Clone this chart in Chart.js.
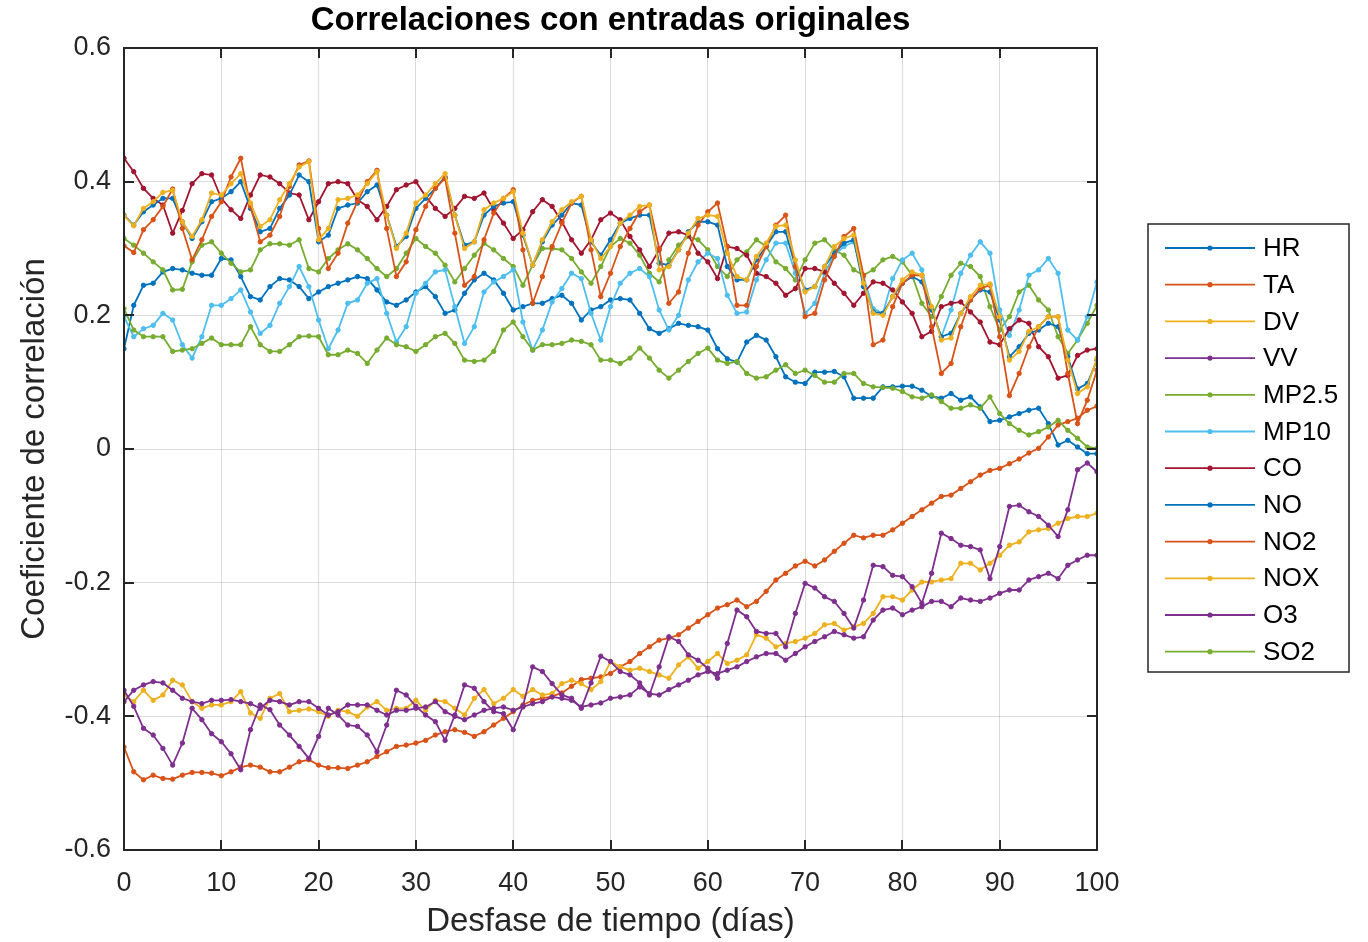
<!DOCTYPE html>
<html lang="es">
<head>
<meta charset="utf-8">
<title>Correlaciones con entradas originales</title>
<script src="https://cdn.jsdelivr.net/npm/chart.js@4.4.1/dist/chart.umd.min.js"></script>
<style>
  html, body { margin: 0; padding: 0; background: #ffffff; }
  #wrap { width: 1368px; height: 942px; }
  canvas { display: block; }
</style>
</head>
<body>
<div id="wrap"><canvas id="chart" width="1368" height="942"></canvas></div>
<script>
// Time lag in days (x values)
const lagDays = [0,1,2,3,4,5,6,7,8,9,10,11,12,13,14,15,16,17,18,19,20,21,22,23,24,25,26,27,28,29,30,
  31,32,33,34,35,36,37,38,39,40,41,42,43,44,45,46,47,48,49,50,51,52,53,54,55,56,57,58,59,60,
  61,62,63,64,65,66,67,68,69,70,71,72,73,74,75,76,77,78,79,80,81,82,83,84,85,86,87,88,89,90,
  91,92,93,94,95,96,97,98,99,100];

const xTicks = [0,10,20,30,40,50,60,70,80,90,100];
const yTicks = [-0.6,-0.4,-0.2,0,0.2,0.4,0.6];

const seriesNames = ['HR','TA','DV','VV','MP2.5','MP10','CO','NO','NO2','NOX','O3','SO2'];
const seriesColors = ['#0072BD','#D95319','#EDB120','#7E2F8E','#77AC30','#4DBEEE','#A2142F',
                      '#0072BD','#D95319','#EDB120','#7E2F8E','#77AC30'];

// Correlation coefficient per lag, one array per input variable
const HR = [0.150,0.215,0.245,0.248,0.265,0.270,0.268,0.263,0.260,0.260,
  0.285,0.283,0.258,0.228,0.223,0.243,0.255,0.253,0.243,0.225,
  0.235,0.243,0.248,0.253,0.258,0.255,0.238,0.220,0.215,0.223,
  0.235,0.243,0.228,0.203,0.208,0.233,0.253,0.263,0.253,0.233,
  0.208,0.213,0.218,0.218,0.225,0.230,0.218,0.193,0.208,0.213,
  0.223,0.225,0.223,0.203,0.180,0.173,0.180,0.188,0.185,0.183,
  0.178,0.150,0.135,0.130,0.160,0.170,0.163,0.138,0.108,0.100,
  0.098,0.115,0.115,0.116,0.108,0.076,0.076,0.076,0.093,0.093,
  0.094,0.094,0.088,0.079,0.076,0.083,0.073,0.078,0.063,0.041,
  0.043,0.048,0.053,0.058,0.061,0.038,0.006,0.013,0.003,-0.007,
  -0.007];

const TA = [-0.446,-0.483,-0.495,-0.488,-0.493,-0.494,-0.488,-0.484,-0.484,-0.485,
  -0.489,-0.483,-0.476,-0.473,-0.476,-0.483,-0.483,-0.476,-0.468,-0.465,
  -0.473,-0.477,-0.477,-0.478,-0.473,-0.468,-0.460,-0.453,-0.445,-0.443,
  -0.440,-0.436,-0.428,-0.423,-0.420,-0.424,-0.430,-0.423,-0.413,-0.403,
  -0.393,-0.383,-0.376,-0.373,-0.370,-0.365,-0.355,-0.345,-0.343,-0.341,
  -0.336,-0.326,-0.318,-0.306,-0.296,-0.286,-0.283,-0.278,-0.268,-0.258,
  -0.248,-0.238,-0.233,-0.226,-0.236,-0.228,-0.213,-0.196,-0.186,-0.175,
  -0.168,-0.175,-0.166,-0.153,-0.141,-0.129,-0.133,-0.129,-0.129,-0.121,
  -0.111,-0.101,-0.091,-0.081,-0.071,-0.069,-0.059,-0.049,-0.039,-0.032,
  -0.029,-0.022,-0.015,-0.006,0.001,0.018,0.036,0.041,0.046,0.058,
  0.064];

const DV = [-0.368,-0.378,-0.361,-0.376,-0.368,-0.346,-0.353,-0.378,-0.388,-0.383,
  -0.383,-0.378,-0.363,-0.395,-0.403,-0.373,-0.366,-0.393,-0.391,-0.389,
  -0.393,-0.400,-0.391,-0.393,-0.400,-0.386,-0.378,-0.391,-0.388,-0.388,
  -0.376,-0.391,-0.376,-0.378,-0.388,-0.398,-0.373,-0.360,-0.381,-0.373,
  -0.360,-0.370,-0.360,-0.368,-0.366,-0.351,-0.346,-0.351,-0.360,-0.348,
  -0.318,-0.326,-0.331,-0.328,-0.333,-0.338,-0.343,-0.323,-0.311,-0.328,
  -0.318,-0.306,-0.321,-0.316,-0.308,-0.278,-0.283,-0.296,-0.291,-0.288,
  -0.283,-0.276,-0.263,-0.261,-0.271,-0.266,-0.261,-0.246,-0.221,-0.221,
  -0.226,-0.211,-0.199,-0.199,-0.196,-0.194,-0.171,-0.171,-0.181,-0.171,
  -0.159,-0.144,-0.139,-0.124,-0.121,-0.119,-0.111,-0.104,-0.101,-0.101,
  -0.096];

const VV = [-0.378,-0.361,-0.353,-0.348,-0.350,-0.361,-0.373,-0.378,-0.381,-0.376,
  -0.376,-0.375,-0.378,-0.381,-0.388,-0.376,-0.378,-0.383,-0.378,-0.378,
  -0.388,-0.398,-0.393,-0.383,-0.383,-0.383,-0.391,-0.398,-0.391,-0.391,
  -0.388,-0.386,-0.378,-0.393,-0.400,-0.405,-0.398,-0.391,-0.388,-0.386,
  -0.391,-0.386,-0.381,-0.378,-0.371,-0.373,-0.376,-0.386,-0.383,-0.380,
  -0.373,-0.371,-0.368,-0.356,-0.366,-0.368,-0.360,-0.353,-0.346,-0.338,
  -0.333,-0.336,-0.331,-0.326,-0.318,-0.311,-0.306,-0.306,-0.316,-0.306,
  -0.296,-0.288,-0.281,-0.273,-0.278,-0.283,-0.281,-0.256,-0.241,-0.238,
  -0.248,-0.241,-0.236,-0.228,-0.228,-0.236,-0.223,-0.226,-0.228,-0.223,
  -0.216,-0.211,-0.211,-0.196,-0.191,-0.186,-0.194,-0.174,-0.166,-0.159,
  -0.159];

const MP25 = [0.315,0.305,0.293,0.280,0.268,0.238,0.239,0.280,0.305,0.310,
  0.293,0.278,0.265,0.268,0.298,0.307,0.307,0.305,0.313,0.270,
  0.265,0.285,0.298,0.307,0.298,0.285,0.270,0.258,0.270,0.293,
  0.315,0.303,0.293,0.275,0.250,0.270,0.290,0.308,0.298,0.285,
  0.273,0.245,0.275,0.300,0.300,0.298,0.285,0.265,0.248,0.273,
  0.303,0.315,0.308,0.290,0.263,0.250,0.283,0.305,0.318,0.313,
  0.298,0.273,0.258,0.283,0.295,0.313,0.303,0.280,0.270,0.253,
  0.283,0.308,0.313,0.298,0.290,0.268,0.260,0.268,0.283,0.288,
  0.280,0.260,0.218,0.198,0.228,0.260,0.278,0.273,0.258,0.213,
  0.178,0.198,0.235,0.245,0.223,0.208,0.168,0.143,0.163,0.188,
  0.215];

const MP10 = [0.198,0.168,0.180,0.185,0.203,0.193,0.156,0.136,0.168,0.215,
  0.215,0.225,0.238,0.205,0.173,0.185,0.218,0.243,0.273,0.243,
  0.193,0.150,0.178,0.218,0.223,0.248,0.255,0.203,0.160,0.183,
  0.233,0.248,0.265,0.268,0.213,0.158,0.183,0.235,0.250,0.258,
  0.268,0.190,0.148,0.178,0.220,0.240,0.263,0.255,0.203,0.163,
  0.213,0.248,0.263,0.270,0.258,0.208,0.178,0.200,0.253,0.280,
  0.293,0.285,0.230,0.203,0.205,0.253,0.283,0.308,0.308,0.263,
  0.203,0.218,0.263,0.290,0.303,0.310,0.258,0.210,0.203,0.255,
  0.283,0.293,0.268,0.210,0.168,0.208,0.263,0.290,0.310,0.293,
  0.208,0.170,0.208,0.260,0.268,0.285,0.263,0.178,0.163,0.198,
  0.250];

const CO = [0.435,0.415,0.390,0.375,0.365,0.323,0.357,0.397,0.412,0.410,
  0.375,0.358,0.345,0.380,0.410,0.407,0.397,0.383,0.380,0.343,
  0.370,0.397,0.400,0.397,0.373,0.363,0.343,0.363,0.388,0.395,
  0.400,0.378,0.360,0.348,0.360,0.378,0.375,0.383,0.358,0.338,
  0.315,0.328,0.355,0.373,0.363,0.340,0.313,0.293,0.313,0.343,
  0.353,0.343,0.318,0.298,0.273,0.298,0.323,0.325,0.320,0.293,
  0.280,0.255,0.303,0.300,0.290,0.263,0.258,0.248,0.230,0.240,
  0.270,0.270,0.265,0.248,0.233,0.215,0.233,0.250,0.248,0.238,
  0.220,0.203,0.168,0.176,0.213,0.218,0.220,0.205,0.190,0.160,
  0.156,0.180,0.193,0.188,0.153,0.138,0.106,0.110,0.140,0.148,
  0.150];

const NO = [0.350,0.335,0.355,0.365,0.375,0.375,0.340,0.315,0.340,0.370,
  0.375,0.385,0.400,0.360,0.325,0.330,0.360,0.380,0.410,0.400,
  0.310,0.320,0.360,0.365,0.368,0.385,0.395,0.350,0.303,0.318,
  0.360,0.375,0.390,0.407,0.350,0.305,0.310,0.350,0.363,0.368,
  0.370,0.320,0.275,0.310,0.335,0.350,0.368,0.365,0.310,0.290,
  0.313,0.338,0.345,0.350,0.350,0.278,0.275,0.298,0.325,0.340,
  0.340,0.335,0.273,0.253,0.253,0.283,0.303,0.325,0.325,0.273,
  0.238,0.243,0.273,0.293,0.308,0.313,0.243,0.205,0.203,0.228,
  0.248,0.258,0.250,0.208,0.168,0.173,0.203,0.223,0.238,0.235,
  0.193,0.138,0.153,0.173,0.178,0.188,0.183,0.138,0.090,0.098,
  0.133];

const NO2 = [0.304,0.294,0.328,0.343,0.363,0.389,0.330,0.283,0.313,0.348,
  0.370,0.407,0.435,0.363,0.310,0.320,0.348,0.393,0.425,0.431,
  0.330,0.270,0.293,0.338,0.370,0.400,0.417,0.330,0.258,0.280,
  0.328,0.363,0.390,0.405,0.323,0.245,0.258,0.313,0.353,0.375,
  0.388,0.298,0.218,0.258,0.303,0.338,0.368,0.378,0.298,0.228,
  0.263,0.303,0.330,0.355,0.365,0.300,0.218,0.235,0.293,0.335,
  0.355,0.368,0.303,0.215,0.215,0.273,0.303,0.335,0.350,0.273,
  0.198,0.203,0.253,0.288,0.318,0.330,0.260,0.156,0.163,0.213,
  0.248,0.260,0.260,0.183,0.113,0.128,0.183,0.223,0.240,0.245,
  0.168,0.080,0.113,0.153,0.183,0.198,0.198,0.113,0.038,0.073,
  0.118];

const NOX = [0.349,0.334,0.360,0.370,0.384,0.387,0.340,0.318,0.343,0.383,
  0.380,0.397,0.412,0.368,0.333,0.343,0.373,0.397,0.422,0.430,
  0.313,0.330,0.373,0.375,0.380,0.397,0.415,0.350,0.300,0.323,
  0.368,0.380,0.397,0.412,0.350,0.300,0.310,0.358,0.368,0.375,
  0.385,0.323,0.275,0.313,0.340,0.358,0.370,0.378,0.313,0.285,
  0.303,0.338,0.350,0.363,0.365,0.268,0.273,0.298,0.323,0.345,
  0.350,0.348,0.293,0.258,0.253,0.288,0.308,0.333,0.335,0.283,
  0.235,0.243,0.273,0.303,0.315,0.320,0.248,0.203,0.200,0.228,
  0.253,0.265,0.260,0.213,0.163,0.166,0.203,0.228,0.245,0.247,
  0.198,0.133,0.146,0.176,0.183,0.198,0.198,0.133,0.083,0.093,
  0.136];

const O3 = [-0.361,-0.385,-0.418,-0.428,-0.448,-0.473,-0.440,-0.388,-0.405,-0.426,
  -0.438,-0.456,-0.480,-0.420,-0.383,-0.390,-0.413,-0.428,-0.445,-0.463,
  -0.430,-0.388,-0.398,-0.413,-0.415,-0.428,-0.453,-0.413,-0.361,-0.368,
  -0.385,-0.398,-0.408,-0.436,-0.398,-0.353,-0.358,-0.378,-0.393,-0.396,
  -0.420,-0.385,-0.326,-0.333,-0.351,-0.368,-0.373,-0.388,-0.350,-0.310,
  -0.318,-0.333,-0.338,-0.350,-0.368,-0.326,-0.281,-0.288,-0.308,-0.316,
  -0.328,-0.343,-0.291,-0.241,-0.251,-0.273,-0.276,-0.276,-0.296,-0.246,
  -0.201,-0.208,-0.221,-0.228,-0.246,-0.268,-0.226,-0.174,-0.176,-0.189,
  -0.191,-0.206,-0.231,-0.186,-0.126,-0.134,-0.144,-0.146,-0.151,-0.194,
  -0.146,-0.086,-0.084,-0.094,-0.101,-0.114,-0.131,-0.091,-0.031,-0.021,
  -0.034];

const SO2 = [0.210,0.178,0.168,0.168,0.168,0.146,0.148,0.150,0.158,0.166,
  0.156,0.156,0.156,0.183,0.156,0.146,0.146,0.156,0.168,0.169,
  0.168,0.141,0.141,0.148,0.143,0.128,0.148,0.166,0.156,0.153,
  0.146,0.156,0.168,0.173,0.158,0.133,0.131,0.133,0.146,0.178,
  0.190,0.168,0.148,0.156,0.156,0.158,0.163,0.161,0.156,0.133,
  0.133,0.128,0.136,0.151,0.136,0.118,0.106,0.118,0.131,0.143,
  0.151,0.133,0.128,0.131,0.113,0.106,0.108,0.118,0.126,0.113,
  0.118,0.110,0.100,0.100,0.113,0.113,0.098,0.093,0.092,0.091,
  0.086,0.078,0.076,0.081,0.071,0.061,0.061,0.066,0.061,0.078,
  0.053,0.038,0.028,0.021,0.026,0.033,0.043,0.028,0.016,0.003,
  0.001];

const seriesValues = [HR, TA, DV, VV, MP25, MP10, CO, NO, NO2, NOX, O3, SO2];

const FONT = '"Liberation Sans", Arial, Helvetica, sans-serif';
const TEXT = '#262626';

const datasets = seriesNames.map((name, i) => ({
  label: name,
  data: lagDays.map((d, k) => ({ x: d, y: seriesValues[i][k] })),
  borderColor: seriesColors[i],
  backgroundColor: seriesColors[i],
  borderWidth: 1.8,
  pointRadius: 2.2,
  pointBorderWidth: 1,
  pointHoverRadius: 2.2,
  tension: 0,
  order: seriesNames.length - i   // later series painted on top
}));

// Axes box with inward ticks, title, axis titles and boxed legend
const figurePlugin = {
  id: 'figure',
  beforeDraw(chart) {
    const { ctx, width, height } = chart;
    ctx.save();
    ctx.fillStyle = '#ffffff';
    ctx.fillRect(0, 0, width, height);
    ctx.restore();
  },
  afterDraw(chart) {
    const { ctx, chartArea: a, scales } = chart;
    const sx = scales.x, sy = scales.y;
    ctx.save();

    // axes box
    ctx.strokeStyle = TEXT;
    ctx.lineWidth = 2;
    ctx.strokeRect(a.left, a.top, a.right - a.left, a.bottom - a.top);

    // inward tick marks on all four sides
    const tl = 10;
    ctx.beginPath();
    xTicks.forEach(v => {
      const px = Math.round(sx.getPixelForValue(v));
      ctx.moveTo(px, a.bottom); ctx.lineTo(px, a.bottom - tl);
      ctx.moveTo(px, a.top);    ctx.lineTo(px, a.top + tl);
    });
    yTicks.forEach(v => {
      const py = Math.round(sy.getPixelForValue(v));
      ctx.moveTo(a.left, py);  ctx.lineTo(a.left + tl, py);
      ctx.moveTo(a.right, py); ctx.lineTo(a.right - tl, py);
    });
    ctx.stroke();

    // title
    const cx = (a.left + a.right) / 2;
    ctx.fillStyle = '#000000';
    ctx.textAlign = 'center';
    ctx.textBaseline = 'middle';
    ctx.font = 'bold 33px ' + FONT;
    ctx.fillText('Correlaciones con entradas originales', cx, 21);

    // axis titles
    ctx.fillStyle = TEXT;
    ctx.font = '33px ' + FONT;
    ctx.fillText('Desfase de tiempo (días)', cx, 922);
    ctx.save();
    ctx.translate(35, (a.top + a.bottom) / 2);
    ctx.rotate(-Math.PI / 2);
    ctx.fillText('Coeficiente de correlación', 0, 0);
    ctx.restore();

    // legend
    const bx = 1148, by = 224, bw = 201, bh = 448;
    ctx.fillStyle = '#ffffff';
    ctx.fillRect(bx, by, bw, bh);
    ctx.strokeStyle = TEXT;
    ctx.lineWidth = 1.5;
    ctx.strokeRect(bx, by, bw, bh);
    const rowH = 36.7;
    ctx.font = '26px ' + FONT;
    ctx.textAlign = 'left';
    ctx.textBaseline = 'middle';
    chart.data.datasets.forEach((ds, i) => {
      const ry = by + 24 + i * rowH;
      ctx.strokeStyle = ds.borderColor;
      ctx.lineWidth = 1.8;
      ctx.beginPath();
      ctx.moveTo(1165, ry); ctx.lineTo(1255, ry);
      ctx.stroke();
      ctx.fillStyle = ds.borderColor;
      ctx.beginPath();
      ctx.arc(1210, ry, 2.6, 0, Math.PI * 2);
      ctx.fill();
      ctx.fillStyle = '#000000';
      ctx.fillText(ds.label, 1263, ry + 1);
    });

    ctx.restore();
  }
};

Chart.defaults.font.family = FONT;
Chart.defaults.color = TEXT;

new Chart(document.getElementById('chart'), {
  type: 'line',
  data: { datasets },
  options: {
    responsive: false,
    animation: false,
    events: [],
    layout: { padding: { left: 0, right: 271, top: 48, bottom: 0 } },
    plugins: {
      legend: { display: false },
      title: { display: false },
      tooltip: { enabled: false }
    },
    scales: {
      x: {
        type: 'linear',
        min: 0,
        max: 100,
        afterBuildTicks: s => { s.ticks = xTicks.map(v => ({ value: v })); },
        afterFit: s => { s.height = 92; },
        ticks: {
          font: { size: 27 },
          color: TEXT,
          padding: 17,
          maxRotation: 0,
          callback: v => String(v)
        },
        grid: { color: 'rgba(0,0,0,0.14)', lineWidth: 1, drawTicks: false },
        border: { display: false }
      },
      y: {
        type: 'linear',
        min: -0.6,
        max: 0.6,
        afterBuildTicks: s => { s.ticks = yTicks.map(v => ({ value: v })); },
        afterFit: s => { s.width = 124; },
        ticks: {
          font: { size: 27 },
          color: TEXT,
          padding: 13,
          callback: v => (Math.abs(v) < 1e-9 ? '0' : v.toFixed(1))
        },
        grid: { color: 'rgba(0,0,0,0.14)', lineWidth: 1, drawTicks: false },
        border: { display: false }
      }
    }
  },
  plugins: [figurePlugin]
});
</script>
</body>
</html>
